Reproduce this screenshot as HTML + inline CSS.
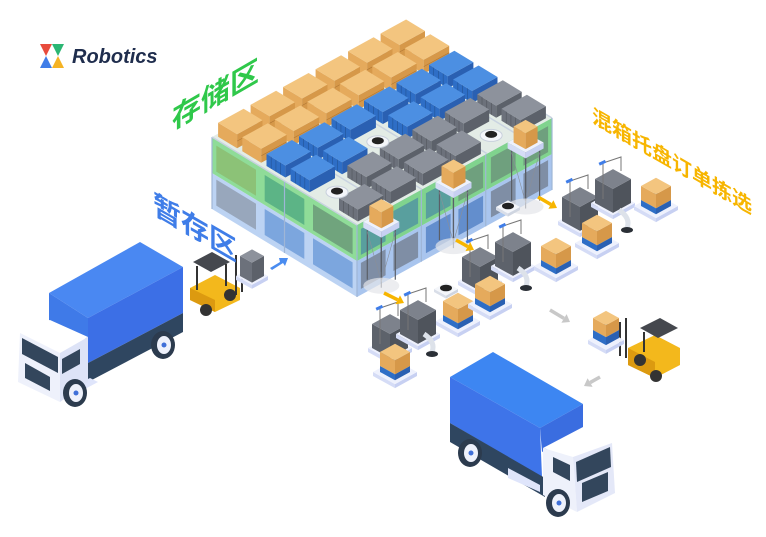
<!DOCTYPE html>
<html><head><meta charset="utf-8"><style>
html,body{margin:0;padding:0;background:#fff;width:766px;height:537px;overflow:hidden}
svg{display:block}
.t{font-family:"Liberation Sans","Noto Sans CJK SC",sans-serif;font-weight:bold}
</style></head><body>
<svg id="s" width="766" height="537" viewBox="0 0 766 537" xmlns="http://www.w3.org/2000/svg">
<g>
<rect x="38" y="42" width="28" height="26" rx="3" fill="#fff"/>
<polygon points="40,44 52,44 46,56" fill="#e84b3c"/>
<polygon points="52,44 64,44 58,56" fill="#2bb673"/>
<polygon points="40,68 46,56 52,68" fill="#3f7de8"/>
<polygon points="52,68 58,56 64,68" fill="#f5b324"/>
<text x="72" y="63" class="t" font-size="20" font-style="italic" fill="#1f2d4d">Robotics</text>
</g>
<g id="ware"></g>
<g id="rest"></g>
<text class="t" font-size="29" fill="#2fc84a" transform="translate(172,130) skewY(-30)">存储区</text>
<text class="t" font-size="28" fill="#3f7de8" transform="translate(153,213) skewY(30)">暂存区</text>
<text class="t" font-size="20" fill="#f7b500" transform="translate(592,122) skewY(30)">混箱托盘订单拣选</text>
</svg>
<script>
var NS="http://www.w3.org/2000/svg";
function el(g,tag,attrs){var e=document.createElementNS(NS,tag);for(var k in attrs)e.setAttribute(k,attrs[k]);g.appendChild(e);return e;}
function poly(g,pts,fill,stroke,op){var a={points:pts.map(function(p){return p[0].toFixed(1)+","+p[1].toFixed(1)}).join(" "),fill:fill};if(stroke){a.stroke=stroke;a["stroke-width"]=0.6;}if(op)a.opacity=op;return el(g,"polygon",a);}
var W=document.getElementById("ware"),R=document.getElementById("rest");
function P(s,t,z){return [212+195*s+145*t,137-107*s+88*t-z];}
function cub(g,s0,s1,t0,t1,z0,z1,c,op){
 poly(g,[P(s0,t0,z1),P(s0,t1,z1),P(s0,t1,z0),P(s0,t0,z0)],c[1],null,op);
 poly(g,[P(s0,t1,z1),P(s1,t1,z1),P(s1,t1,z0),P(s0,t1,z0)],c[2],null,op);
 poly(g,[P(s0,t0,z1),P(s1,t0,z1),P(s1,t1,z1),P(s0,t1,z1)],c[0],null,op);
}
var OR=["#f3c57f","#e5aa5c","#d69849"],BL=["#4c8fe2","#2e6ec6","#2a60b2"],GR=["#8d929c","#6c717b","#5c616a"];
cub(W,0,1,0,1,-72,-36,["#cfe0f7","#bcd3f3","#a9c5ee"]);
cub(W,0,1,0,1,-36,0,["#e3ece6","#8fdc98","#80d38e"]);
for(var i=0;i<6;i++){var s0=i/6+0.02,s1=(i+1)/6-0.02;
 var c=i<2?GR:(i<4?BL:GR);
 poly(W,[P(s0,1,-40),P(s1,1,-40),P(s1,1,-66),P(s0,1,-66)],c[2],null,0.55);
 var c2=i<3?BL:GR;
 poly(W,[P(s0,1,-6),P(s1,1,-6),P(s1,1,-32),P(s0,1,-32)],c2[2],null,0.45);
}
for(var j=0;j<3;j++){var t0=j/3+0.03,t1=(j+1)/3-0.03;
 poly(W,[P(0,t0,-6),P(0,t1,-6),P(0,t1,-32),P(0,t0,-32)],j==0?"#8ab060":(j==1?"#3a9a7a":"#5c7f6a"),null,0.6);
 poly(W,[P(0,t0,-40),P(0,t1,-40),P(0,t1,-66),P(0,t0,-66)],j==0?GR[1]:BL[1],null,0.45);
}
[[0,0],[0,1],[1,1],[0.33,1],[0.66,1],[0,0.5]].forEach(function(a){var p=P(a[0],a[1],0),q=P(a[0],a[1],-72);el(W,"line",{x1:p[0],y1:p[1],x2:q[0],y2:q[1],stroke:"#9fb6d6","stroke-width":1.2});});
// rack lines on top
for(var i=0;i<=6;i++){var p=P(i/6,0,0),q=P(i/6,1,0);el(W,"line",{x1:p[0],y1:p[1],x2:q[0],y2:q[1],stroke:"#c9d3e0","stroke-width":1.5});}
for(var i=5;i>=0;i--){for(var j=0;j<6;j++){var band=Math.floor(j/2);var c=band==0?OR:(band==1?BL:GR);
 var s0=i/6+0.018,s1=(i+1)/6-0.018,t0=j/6+0.018,t1=(j+1)/6-0.018;
 if((i==2&&j==3)||(i==4&&j==5)||(i==0&&j==4))continue;
 var h=band==0?14:12;
 cub(W,s0,s1,t0,t1,0,h,c);
 if(band>0){for(var k=1;k<4;k++){var tt=t0+(t1-t0)*k/4;var p=P(s0,tt,h),q=P(s0,tt,0);el(W,"line",{x1:p[0],y1:p[1],x2:q[0],y2:q[1],stroke:"rgba(0,0,0,0.25)","stroke-width":0.6});}}
 else{var p=P(s0,t1,h/2),q=P(s1,t1,h/2);el(W,"line",{x1:p[0],y1:p[1],x2:q[0],y2:q[1],stroke:"rgba(120,70,20,0.4)","stroke-width":0.6});}
}}
[[2.5/6,3.5/6],[4.5/6,5.5/6],[0.5/6,4.5/6]].forEach(function(a){var p=P(a[0],a[1],2);el(W,"ellipse",{cx:p[0],cy:p[1],rx:11,ry:6,fill:"#f4f6fa",stroke:"#c8d0dc"});el(W,"ellipse",{cx:p[0],cy:p[1]-1,rx:6,ry:3.5,fill:"#222"});});
function ibox(g,x,y,a,h,c){var k=0.55;
 var L=[x-a,y],B=[x,y-a*k],Rr=[x+a,y],F=[x,y+a*k];
 poly(g,[L,F,[F[0],F[1]-h],[L[0],L[1]-h]],c[1]);
 poly(g,[F,Rr,[Rr[0],Rr[1]-h],[F[0],F[1]-h]],c[2]);
 poly(g,[[L[0],L[1]-h],[B[0],B[1]-h],[Rr[0],Rr[1]-h],[F[0],F[1]-h]],c[0]);}
function plat(g,x,y,a){ibox(g,x,y,a,4,["#eef1fd","#d5dcf6","#c7d0f2"]);}
[[0.08,1.06],[0.45,1.06],[0.82,1.06]].forEach(function(a){var p=P(a[0],a[1],0);var x=p[0],y=p[1];
 [[-14,0],[14,0],[0,8],[0,-8]].forEach(function(d){el(W,"line",{x1:x+d[0],y1:y+d[1],x2:x+d[0],y2:y+d[1]+58,stroke:"#5a5f68","stroke-width":1.2});});
 el(W,"path",{d:"M"+(x-14)+","+(y+10)+" L"+(x)+","+(y+60)+" M"+(x+14)+","+(y+10)+" L"+x+","+(y+60),stroke:"#8a8f98","stroke-width":0.6,fill:"none"});
 ibox(W,x,y+6,18,6,["#eef1fd","#d5dcf6","#c7d0f2"]);
 ibox(W,x,y,12,16,OR);
 el(W,"ellipse",{cx:x,cy:y+64,rx:18,ry:8,fill:"#e4e6ea",opacity:0.7});
});
// left truck
poly(R,[[49,293],[140,242],[183,267],[88,318]],"#4a88f2");
poly(R,[[49,293],[88,318],[88,340],[49,320]],"#3f7ae8");
poly(R,[[88,318],[183,267],[183,313],[88,363]],"#3c6fe6");
poly(R,[[88,363],[183,313],[183,332],[88,382]],"#2f4660");
poly(R,[[62,392],[90,378],[98,382],[70,397]],"#dfe5fb");
poly(R,[[20,333],[50,320],[88,337],[60,353]],"#ffffff");
poly(R,[[20,333],[60,353],[60,402],[18,382]],"#eef1fb");
poly(R,[[60,353],[88,337],[88,382],[60,402]],"#dde3f7");
poly(R,[[22,338],[58,357],[58,373],[22,354]],"#33465c");
poly(R,[[62,359],[80,349],[80,364],[62,374]],"#33465c");
poly(R,[[25,363],[50,377],[50,391],[25,378]],"#33465c");
[[163,345],[75,393]].forEach(function(w){el(R,"ellipse",{cx:w[0],cy:w[1],rx:12,ry:14,fill:"#2c3b4e"});el(R,"ellipse",{cx:w[0]+1,cy:w[1],rx:7,ry:9,fill:"#eef1fb"});el(R,"circle",{cx:w[0]+1,cy:w[1],r:2.5,fill:"#3f6fd8"});});
poly(R,[[190,288],[215,275],[240,288],[240,300],[215,312],[190,300]],"#f3b81c");
poly(R,[[190,288],[215,300],[215,312],[190,300]],"#dc9a10");
poly(R,[[193,262],[212,252],[230,262],[211,272]],"#45484e");
el(R,"line",{x1:197,y1:266,x2:197,y2:290,stroke:"#333","stroke-width":2});
el(R,"line",{x1:226,y1:264,x2:226,y2:286,stroke:"#333","stroke-width":2});
el(R,"line",{x1:236,y1:255,x2:236,y2:295,stroke:"#333","stroke-width":2});
el(R,"line",{x1:242,y1:258,x2:242,y2:292,stroke:"#333","stroke-width":2});
el(R,"circle",{cx:206,cy:310,r:6,fill:"#333"});el(R,"circle",{cx:230,cy:295,r:6,fill:"#333"});
plat(R,252,280,16);ibox(R,252,276,12,20,GR);
poly(R,[[270,268],[280,262],[279,258],[288,258],[285,266],[283,263],[272,270]],"#4a8cf0");
// right truck
poly(R,[[450,377],[493,352],[583,404],[540,428]],"#3d86f2");
poly(R,[[450,377],[540,428],[542,477],[450,423]],"#3e74e9");
poly(R,[[540,428],[583,404],[583,430],[542,452]],"#3a6de0");
poly(R,[[450,423],[545,478],[545,497],[450,442]],"#2f4660");
poly(R,[[508,468],[540,485],[540,492],[508,478]],"#dfe5fb");
poly(R,[[543,448],[583,427],[612,443],[573,457]],"#ffffff");
poly(R,[[543,448],[573,457],[577,512],[543,495]],"#eef1fb");
poly(R,[[573,457],[612,443],[615,493],[577,512]],"#e4e8f8");
poly(R,[[576,462],[610,447],[611,467],[577,482]],"#33465c");
poly(R,[[553,457],[570,465],[570,481],[553,472]],"#33465c");
poly(R,[[582,483],[608,472],[608,491],[582,502]],"#33465c");
[[470,453],[558,503]].forEach(function(w){el(R,"ellipse",{cx:w[0],cy:w[1],rx:12,ry:14,fill:"#2c3b4e"});el(R,"ellipse",{cx:w[0]+1,cy:w[1],rx:7,ry:9,fill:"#eef1fb"});el(R,"circle",{cx:w[0]+1,cy:w[1],r:2.5,fill:"#3f6fd8"});});
poly(R,[[628,348],[655,335],[680,348],[680,365],[655,378],[628,365]],"#f3b81c");
poly(R,[[628,348],[655,362],[655,378],[628,365]],"#dc9a10");
poly(R,[[640,328],[660,318],[678,328],[658,338]],"#45484e");
el(R,"line",{x1:644,y1:332,x2:644,y2:352,stroke:"#333","stroke-width":2});
el(R,"line",{x1:626,y1:318,x2:626,y2:358,stroke:"#333","stroke-width":2});
el(R,"line",{x1:620,y1:322,x2:620,y2:356,stroke:"#333","stroke-width":2});
el(R,"circle",{cx:640,cy:360,r:6,fill:"#333"});el(R,"circle",{cx:656,cy:376,r:6,fill:"#333"});
plat(R,606,344,18);ibox(R,606,338,13,8,BL);ibox(R,606,330,13,12,OR);
var GD=["#7d828c","#5d626b","#4f545c"];
function st(x,y,type){plat(R,x,y,22);
 if(type=="g"){ibox(R,x,y-4,18,24,GD);el(R,"path",{d:"M"+(x-10)+","+(y-8)+" L"+(x-10)+","+(y-44)+" L"+(x+8)+","+(y-50)+" L"+(x+8)+","+(y-36),stroke:"#777",fill:"none","stroke-width":1});el(R,"rect",{x:x-14,y:y-46,width:7,height:3,fill:"#3f7de8",transform:"rotate(-25 "+(x-10)+" "+(y-44)+")"});}
 else{ibox(R,x,y-4,15,6,BL);ibox(R,x,y-10,15,14,OR);}
}
st(390,352,"g");st(418,338,"g");st(395,376,"o");st(458,325,"o");
st(480,285,"g");st(513,270,"g");st(490,308,"o");st(556,270,"o");
st(580,225,"g");st(613,207,"g");st(597,247,"o");st(656,210,"o");
[[432,352],[526,286],[627,228]].forEach(function(a){el(R,"path",{d:"M"+(a[0]-8)+","+(a[1]-18)+" Q"+(a[0]+4)+","+(a[1]-10)+" "+a[0]+","+a[1],stroke:"#dde2ea","stroke-width":5,fill:"none"});el(R,"ellipse",{cx:a[0],cy:a[1]+2,rx:6,ry:3,fill:"#2a2f36"});});
[[446,292],[508,210]].forEach(function(a){ibox(R,a[0],a[1],12,3,["#f4f6fa","#d9dee8","#cfd5e0"]);el(R,"ellipse",{cx:a[0],cy:a[1]-4,rx:6,ry:3.3,fill:"#222"});});
function arr(x1,y1,x2,y2,c){var dx=x2-x1,dy=y2-y1,l=Math.hypot(dx,dy),ux=dx/l,uy=dy/l;var hx=x2-ux*7,hy=y2-uy*7;
 el(R,"line",{x1:x1,y1:y1,x2:hx,y2:hy,stroke:c,"stroke-width":3.5});
 poly(R,[[x2,y2],[hx-uy*5,hy+ux*5],[hx+uy*5,hy-ux*5]],c);}
arr(384,293,404,303,"#f7b500");arr(456,240,474,250,"#f7b500");arr(538,197,557,208,"#f7b500");
arr(550,310,570,322,"#c8c8c8");arr(600,377,584,386,"#c8c8c8");
</script>
</body></html>
